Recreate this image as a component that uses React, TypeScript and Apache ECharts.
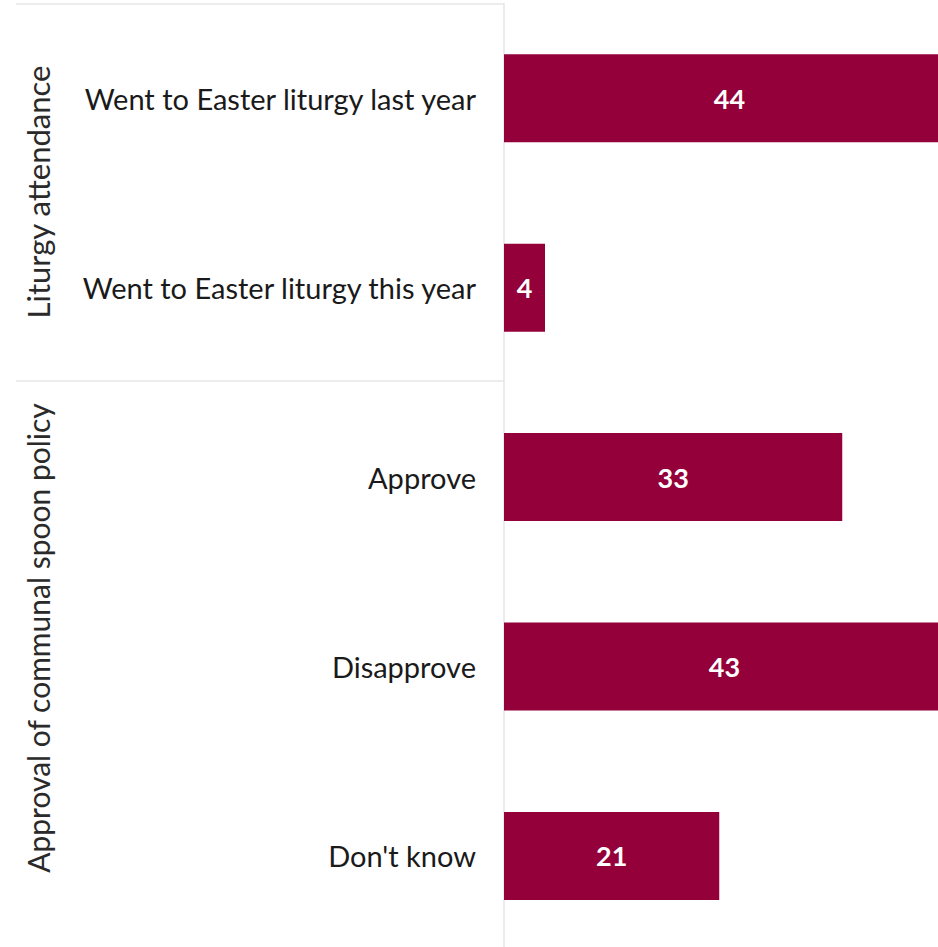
import React, { useEffect, useRef } from "react";
import * as echarts from "echarts";

const categories = [
  "Went to Easter liturgy last year",
  "Went to Easter liturgy this year",
  "Approve",
  "Disapprove",
  "Don't know",
];
const values = [44, 4, 33, 43, 21];
const groupLabels = ["Liturgy attendance", "Approval of communal spoon policy"];

const FONT = "Lato, 'Open Sans', sans-serif";
const BAR = "#93003a";
const LINE = "#e6e6e6";

export default function App() {
  const ref = useRef<HTMLDivElement>(null);
  useEffect(() => {
    if (!ref.current) return;
    const chart = echarts.init(ref.current, undefined, { renderer: "svg" });
    chart.setOption({
      animation: false,
      backgroundColor: "#ffffff",
      grid: { left: 504, top: 3.6, height: 947, width: 512.5, containLabel: false },
      xAxis: {
        type: "value",
        min: 0,
        max: 50,
        show: false,
      },
      yAxis: {
        type: "category",
        data: categories,
        inverse: true,
        axisTick: { show: false },
        axisLine: { show: true, lineStyle: { color: LINE, width: 1.5 } },
        axisLabel: {
          fontFamily: FONT,
          fontSize: 29,
          color: "#1a1a1a",
          margin: 28,
        },
        splitLine: { show: false },
      },
      series: [
        {
          type: "bar",
          data: values,
          barWidth: 88,
          itemStyle: { color: BAR },
          label: {
            show: true,
            position: "inside",
            color: "#ffffff",
            fontFamily: FONT,
            fontWeight: "bold",
            fontSize: 27,
          },
        },
      ],
      graphic: [
        { type: "line", shape: { x1: 16, y1: 4, x2: 504, y2: 4 }, style: { stroke: LINE, lineWidth: 1.5 } },
        { type: "line", shape: { x1: 16, y1: 381, x2: 504, y2: 381 }, style: { stroke: LINE, lineWidth: 1.5 } },
        {
          type: "text",
          x: 38,
          y: 192,
          rotation: Math.PI / 2,
          style: {
            text: groupLabels[0],
            fontFamily: FONT,
            fontSize: 31,
            fill: "#2a2a2a",
            align: "center",
            verticalAlign: "middle",
          },
        },
        {
          type: "text",
          x: 38,
          y: 638,
          rotation: Math.PI / 2,
          style: {
            text: groupLabels[1],
            fontFamily: FONT,
            fontSize: 30,
            fill: "#2a2a2a",
            align: "center",
            verticalAlign: "middle",
          },
        },
      ],
    });
    return () => chart.dispose();
  }, []);
  return (
    <div style={{ position: "fixed", left: 0, top: 0, width: 938, height: 947, overflow: "hidden" }}>
      <div ref={ref} style={{ width: 1030, height: 960 }} />
    </div>
  );
}
